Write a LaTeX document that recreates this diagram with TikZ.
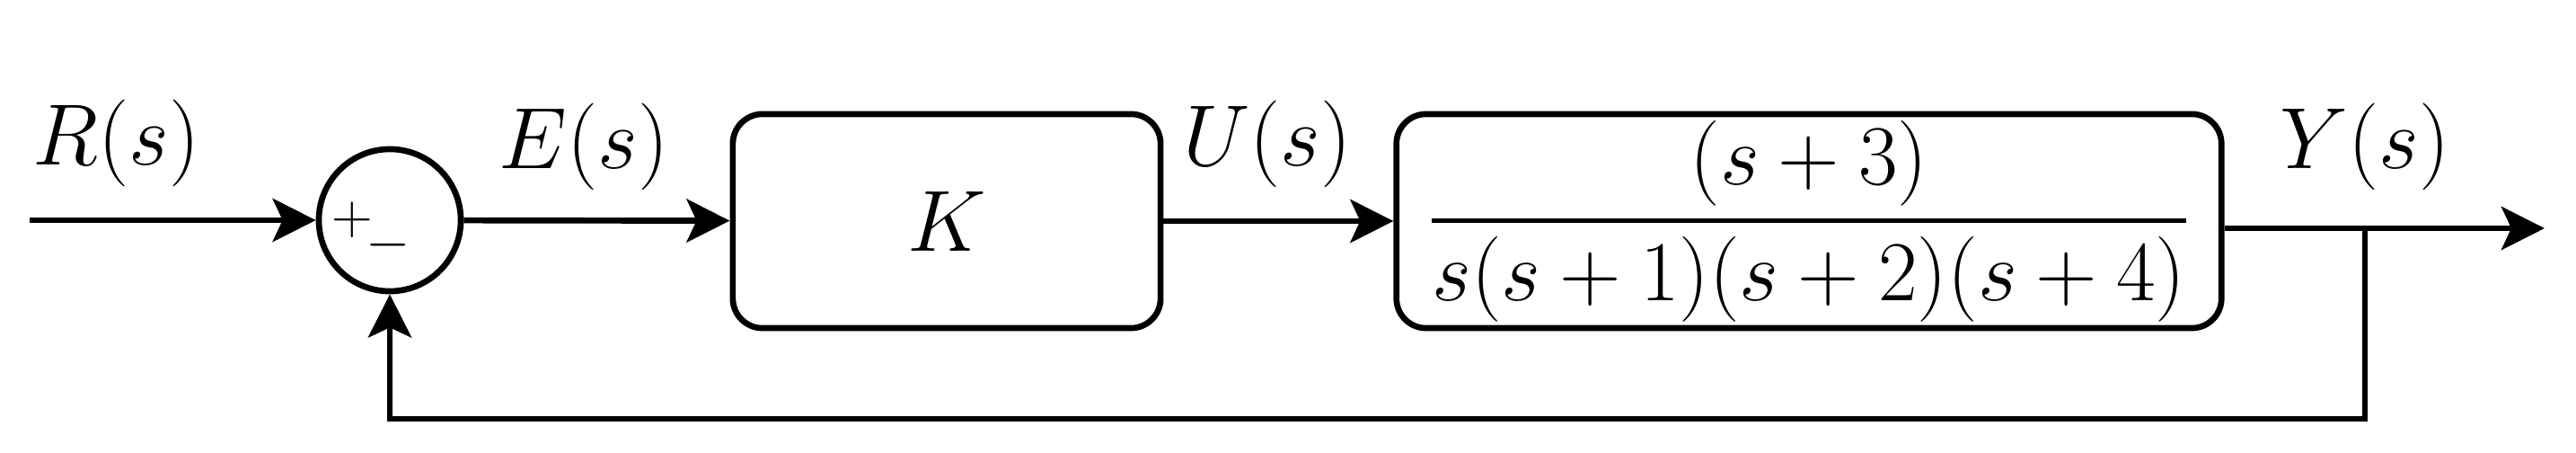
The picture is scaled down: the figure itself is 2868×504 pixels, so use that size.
\RequirePackage{fix-cm}
\documentclass[tikz,border=0pt]{standalone}
\usetikzlibrary{arrows.meta}

\tikzset{
  block/.style={draw, rounded corners=0.33cm, minimum height=2.38cm, inner sep=0pt},
  sum/.style={circle, draw, minimum size=1.58cm, inner sep=0pt,
    label={[font=\fontsize{18}{20}\selectfont, inner sep=0pt, xshift=-0.21cm, yshift=-0.145cm]center:$+\mkern-2mu\raisebox{-0.44em}{$-$}$}},
  sig/.style={font=\fontsize{27.5}{33}\selectfont, anchor=base, inner sep=0pt},
  >={Stealth[length=0.48cm,width=0.48cm,inset=0.11cm]}
}

\begin{document}
\begin{tikzpicture}[x=0.01cm,y=-0.01cm,line width=1.9pt]
\useasboundingbox (0,0) rectangle (2868,504);
% blocks
\node[sum] (sum) at (434,245) {};
\node[block, minimum width=4.76cm, font=\fontsize{27.5}{33}\selectfont] (K) at (1054,246) {$K$};
\node[block, minimum width=9.18cm, font=\fontsize{27}{32}\selectfont] (G) at (2014,246) {$\displaystyle{(s+3)\above1.3pt s(s+1)(s+2)(s+4)}$};
\coordinate (in) at (33,245);
\coordinate (branch) at (2633,254);
\coordinate (out) at (2833,254);
\coordinate (fb) at (2633,466);
% signals
\draw[->] (in) -- (sum);
\draw[->] (sum) -- (K);
\draw[->] (K) -- (G);
\draw (G.east |- branch) -- (branch);
\draw[->] (branch) -- (out);
\draw[->] (branch) -- (fb) -| (sum);
% labels
\node[sig] (R) at (129.5,184) {$R(s)$};
\node[sig] (E) at (650,188) {$E(s)$};
\node[sig] (U) at (1411,185) {$U(s)$};
\node[sig] (Y) at (2633,188) {$Y(s)$};
\end{tikzpicture}
\end{document}
